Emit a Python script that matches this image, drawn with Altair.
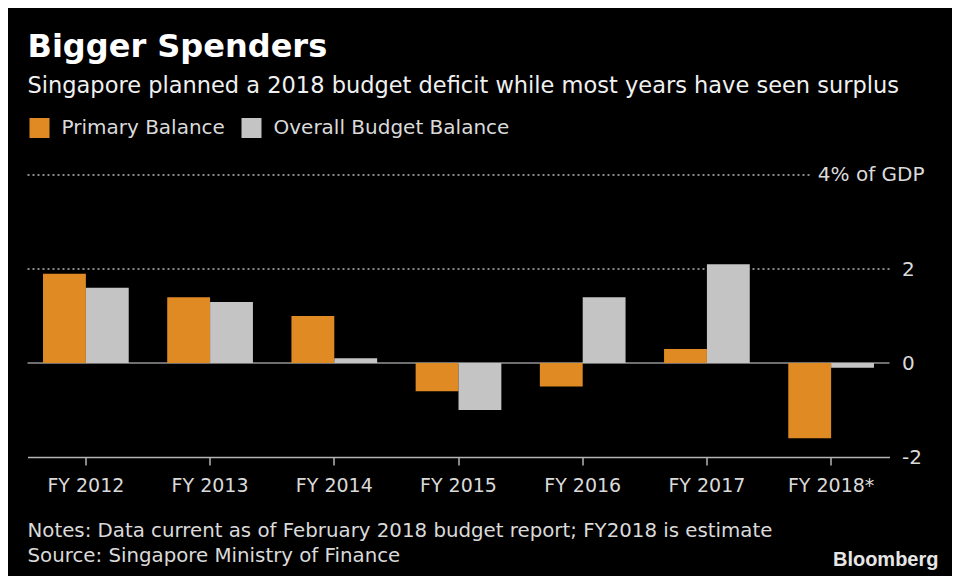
import altair as alt
import pandas as pd

years = ["FY 2012", "FY 2013", "FY 2014", "FY 2015", "FY 2016", "FY 2017", "FY 2018*"]
primary = [1.9, 1.4, 1.0, -0.6, -0.5, 0.3, -1.6]
overall = [1.6, 1.3, 0.1, -1.0, 1.4, 2.1, -0.1]
series_names = ["Primary Balance", "Overall Budget Balance"]
series_colors = ["#E08A24", "#C4C4C4"]
y_ticks = [-2, 0, 2, 4]

title_text = "Bigger Spenders"
subtitle_text = "Singapore planned a 2018 budget deficit while most years have seen surplus"
notes_text = "Notes: Data current as of February 2018 budget report; FY2018 is estimate"
source_text = "Source: Singapore Ministry of Finance"

FONT = "DejaVu Sans"
TXT = "#DADADA"
W, H = 862, 282

rows = []
for i, y in enumerate(years):
    rows.append({"year": y, "series": series_names[0], "value": primary[i]})
    rows.append({"year": y, "series": series_names[1], "value": overall[i]})
df = pd.DataFrame(rows)

yscale = alt.Scale(domain=[-2, 4], nice=False, zero=False)
yaxis = alt.Axis(title=None, orient="right", values=y_ticks, grid=False,
                 domain=False, ticks=False, labelPadding=12,
                 labelFont=FONT, labelFontSize=20, labelColor=TXT,
                 labelAlign="left",
                 labelExpr="datum.value == 4 ? '' : (datum.value < 0 ? '-' + abs(datum.value) : '' + datum.value)")

bars = alt.Chart(df).mark_bar(opacity=1).encode(
    x=alt.X("year:N", sort=years,
            scale=alt.Scale(paddingInner=0.31, paddingOuter=0.125),
            axis=alt.Axis(title=None, labelAngle=0, labelFont=FONT, labelFontSize=19,
                          labelColor=TXT, labelPadding=11, domainColor="#B5B5B5",
                          domainWidth=1.5, ticks=True, tickColor="#B5B5B5", tickSize=8,
                          tickWidth=1.5, bandPosition=0.5, grid=False)),
    xOffset=alt.XOffset("series:N", sort=series_names),
    y=alt.Y("value:Q", scale=yscale, axis=yaxis),
    color=alt.Color("series:N", sort=series_names,
                    scale=alt.Scale(domain=series_names, range=series_colors),
                    legend=alt.Legend(title=None, orient="none", legendX=2, legendY=-57,
                                      direction="horizontal", symbolType="square",
                                      symbolSize=400, symbolStrokeWidth=0, symbolOpacity=1,
                                      labelFont=FONT, labelFontSize=20, labelColor=TXT,
                                      labelLimit=0, labelOffset=12, columnPadding=16, padding=0)),
)

grid2 = alt.Chart(pd.DataFrame({"y": [2]})).mark_rule(
    color="#8A8A8A", strokeWidth=2, strokeDash=[2, 3]
).encode(y=alt.Y("y:Q", scale=yscale, axis=yaxis), x=alt.value(0), x2=alt.value(W))

grid4 = alt.Chart(pd.DataFrame({"y": [4]})).mark_rule(
    color="#8A8A8A", strokeWidth=2, strokeDash=[2, 3]
).encode(y=alt.Y("y:Q", scale=yscale, axis=yaxis), x=alt.value(0), x2=alt.value(784))

zero = alt.Chart(pd.DataFrame({"y": [0]})).mark_rule(
    color="#6E6E6E", strokeWidth=2
).encode(y=alt.Y("y:Q", scale=yscale, axis=yaxis), x=alt.value(0), x2=alt.value(W))

gdp = alt.Chart(pd.DataFrame({"y": [4], "t": ["4% of GDP"]})).mark_text(
    align="right", baseline="middle", font=FONT, fontSize=20, color=TXT
).encode(y=alt.Y("y:Q", scale=yscale, axis=yaxis), x=alt.value(897), text="t:N")

def label(text, x, y, size, weight="normal", color=TXT, align="left", font=FONT):
    return alt.Chart(pd.DataFrame({"t": [text]})).mark_text(
        align=align, baseline="alphabetic", font=font, fontSize=size,
        fontWeight=weight, color=color
    ).encode(x=alt.value(x), y=alt.value(y), text="t:N")

title = label(title_text, 0, -118, 32, "bold", "#FFFFFF")
subtitle = label(subtitle_text, 0, -82, 22.5, color="#F0F0F0")
notes = label(notes_text, 0, 362, 19.8)
source = label(source_text, 0, 387, 19.8)
brand = label("Bloomberg", 911, 391, 20, "bold", "#E6E6E6", "right", "Liberation Sans")

chart = alt.layer(grid2, grid4, zero, bars, gdp, title, subtitle, notes, source, brand).properties(
    width=W, height=H,
    background="#000000",
    padding={"left": 19.5, "top": 167, "right": 62.5, "bottom": 119},
    autosize=alt.AutoSizeParams(type="none"),
).configure_view(stroke=None)

chart.save("out.html", embed_options={"renderer": "svg", "actions": False})
